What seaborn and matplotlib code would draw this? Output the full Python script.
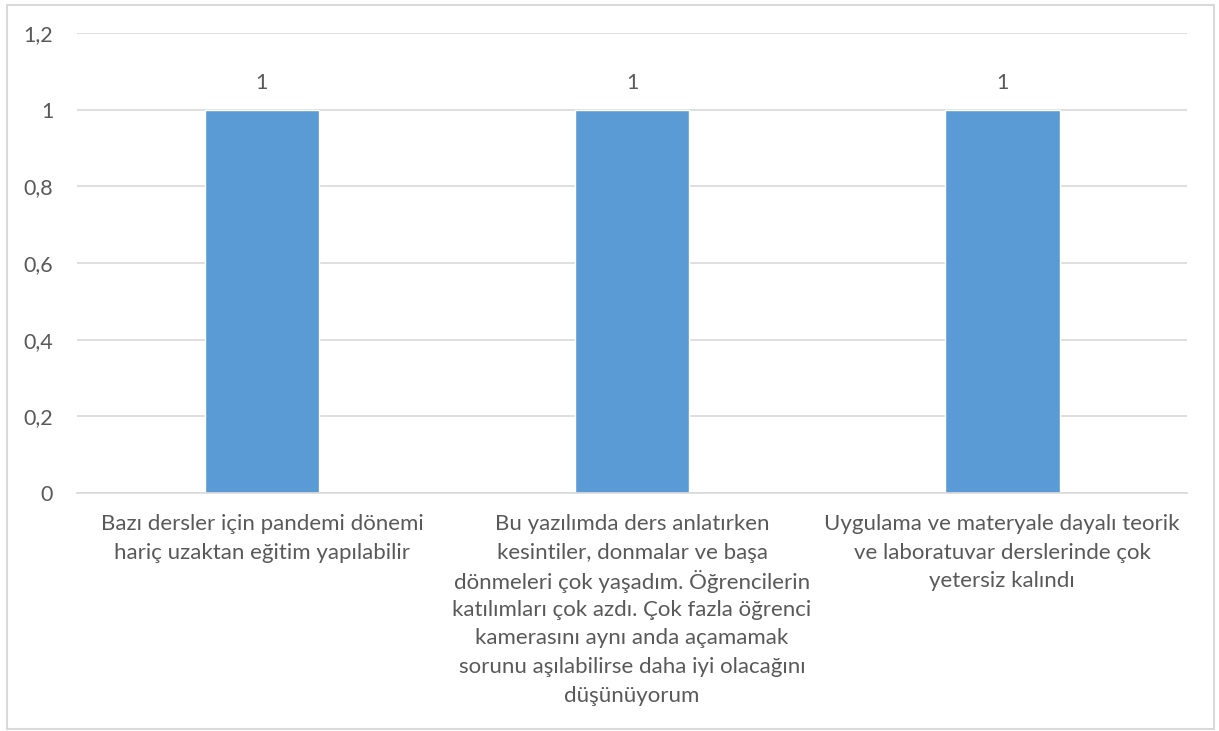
import matplotlib.pyplot as plt
import seaborn as sns
from matplotlib.patches import Rectangle
from matplotlib.ticker import FuncFormatter

# Chart data
categories = [
    "Bazı dersler için pandemi dönemi\nhariç uzaktan eğitim yapılabilir",
    "Bu yazılımda ders anlatırken\nkesintiler, donmalar ve başa\ndönmeleri çok yaşadım. Öğrencilerin\n"
    "katılımları çok azdı. Çok fazla öğrenci\nkamerasını aynı anda açamamak\n"
    "sorunu aşılabilirse daha iyi olacağını\ndüşünüyorum",
    "Uygulama ve materyale dayalı teorik\nve laboratuvar derslerinde çok\nyetersiz kalındı",
]
values = [1, 1, 1]
yticks = [0, 0.2, 0.4, 0.6, 0.8, 1.0, 1.2]

sns.set_style("white")
plt.rcParams['font.family'] = ['Lato', 'DejaVu Sans']

text_color = '#595959'
grid_color = '#D9D9D9'
fs = 16

fig = plt.figure(figsize=(12.19, 7.31), dpi=100)
ax = fig.add_axes([0.063, 0.3256, 0.911, 0.6293])

sns.barplot(x=list(range(len(values))), y=values, color='#5B9BD5', width=0.31,
            saturation=1, ax=ax)

ax.set_ylim(0, 1.2)
ax.set_xlim(-0.5, len(values) - 0.5)
ax.set_yticks(yticks)
ax.yaxis.set_major_formatter(FuncFormatter(lambda v, p: f"{v:g}".replace('.', ',')))
ax.set_xticks(range(len(values)))
ax.set_xticklabels([''] * len(values))
ax.grid(axis='y', color=grid_color, linewidth=1.2)
ax.set_axisbelow(True)
for s in ['top', 'right', 'left']:
    ax.spines[s].set_visible(False)
ax.spines['bottom'].set_color(grid_color)
ax.spines['bottom'].set_linewidth(1.2)
ax.tick_params(axis='both', length=0, labelsize=15.5, colors=text_color)
ax.tick_params(axis='y', pad=17)
ax.set_xlabel('')
ax.set_ylabel('')

# category labels, one line at a time so the line spacing stays even
for i, label in enumerate(categories):
    for j, line in enumerate(label.split('\n')):
        ax.annotate(line, xy=(i, 0), xycoords=('data', 'axes fraction'),
                    xytext=(0, -31 - 28.6 * j), textcoords='offset pixels',
                    ha='center', va='center', fontsize=fs, color=text_color)

for c in ax.containers:
    ax.bar_label(c, labels=[f"{v:g}" for v in values], padding=12, fontsize=15.5, color=text_color)

# outer chart border
fig.patches.append(Rectangle((0.006, 0.003), 0.99, 0.99, transform=fig.transFigure,
                             fill=False, edgecolor=grid_color, linewidth=1.5))

fig.savefig('out.png', dpi=100)
